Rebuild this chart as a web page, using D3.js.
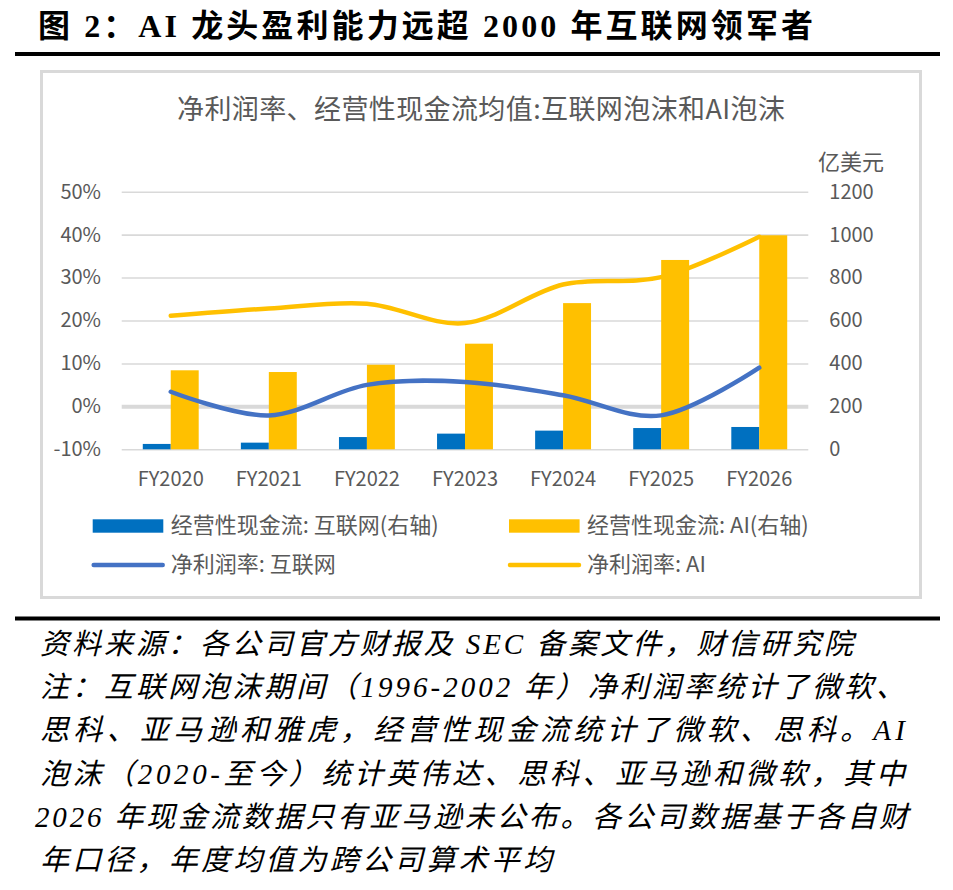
<!DOCTYPE html>
<html>
<head>
<meta charset="utf-8">
<script src="https://cdn.jsdelivr.net/npm/d3@7"></script>
<style>
  body { margin: 0; background: #fff; }
  svg { display: block; }
</style>
</head>
<body>
<svg id="chart" width="953" height="890"></svg>
<script>
// ---- data ----
var years = ['FY2020', 'FY2021', 'FY2022', 'FY2023', 'FY2024', 'FY2025', 'FY2026'];
var cashInternet = [25, 31, 57, 73, 87, 99, 104];      // 亿美元, right axis
var cashAI = [368, 360, 394, 492, 681, 882, 997];     // 亿美元, right axis
var marginInternet = [3.4, -2.1, 5.0, 5.7, 2.6, -2.1, 9.0]; // %
var marginAI = [21.1, 22.8, 23.9, 19.4, 28.4, 30.1, 39.5];  // %
var leftTicks = [-10, 0, 10, 20, 30, 40, 50];
var rightTicks = [0, 200, 400, 600, 800, 1000, 1200];

var figTitle = '图 2：AI 龙头盈利能力远超 2000 年互联网领军者';
var chartTitle = '净利润率、经营性现金流均值:互联网泡沫和AI泡沫';
var unitLabel = '亿美元';
var legendNames = ['经营性现金流: 互联网(右轴)', '经营性现金流: AI(右轴)', '净利润率: 互联网', '净利润率: AI'];
var notes = [
  '资料来源：各公司官方财报及 SEC 备案文件，财信研究院',
  '注：互联网泡沫期间（1996-2002 年）净利润率统计了微软、',
  '思科、亚马逊和雅虎，经营性现金流统计了微软、思科。AI',
  '泡沫（2020-至今）统计英伟达、思科、亚马逊和微软，其中',
  '2026 年现金流数据只有亚马逊未公布。各公司数据基于各自财',
  '年口径，年度均值为跨公司算术平均'
];

(function() {
var blue = '#0070C0', yellow = '#FFC000', lineBlue = '#4472C4',
    grid = '#d9d9d9', gray = '#595959',
    sans = '"Noto Sans CJK SC", "Noto Sans", sans-serif',
    serif = '"Liberation Serif", "Noto Sans CJK SC", serif';

var svg = d3.select('#chart');
svg.append('rect').attr('width', 953).attr('height', 890).attr('fill', '#fff');

// figure title + rules
svg.append('text')
  .attr('x', 38).attr('y', 37)
  .attr('textLength', 775).attr('lengthAdjust', 'spacing')
  .style('font-family', serif).style('font-size', '32px').style('font-weight', 'bold')
  .attr('fill', '#000')
  .text(figTitle);
svg.append('line').attr('x1', 15).attr('x2', 940).attr('y1', 54).attr('y2', 54)
  .attr('stroke', '#000').attr('stroke-width', 4);
svg.append('line').attr('x1', 15).attr('x2', 940).attr('y1', 618.5).attr('y2', 618.5)
  .attr('stroke', '#000').attr('stroke-width', 4);

// chart frame
svg.append('rect')
  .attr('x', 41.5).attr('y', 71.5).attr('width', 879).attr('height', 526)
  .attr('fill', '#fff').attr('stroke', grid).attr('stroke-width', 3);

svg.append('text')
  .attr('x', 481).attr('y', 119).attr('text-anchor', 'middle')
  .attr('textLength', 608).attr('lengthAdjust', 'spacing')
  .style('font-family', sans).style('font-size', '27px').attr('fill', gray)
  .text(chartTitle);

svg.append('text')
  .attr('x', 818).attr('y', 169.5)
  .style('font-family', sans).style('font-size', '22px').attr('fill', gray)
  .text(unitLabel);

// ---- scales ----
var pLeft = 121.7, pRight = 808.3, pTop = 191.7, pBottom = 449.3;

var x0 = d3.scaleBand().domain(years).range([pLeft, pRight])
  .paddingInner(0.43).paddingOuter(0.215);
var x1 = d3.scaleBand().domain(['internet', 'ai']).range([0, x0.bandwidth()]);
var yL = d3.scaleLinear().domain([-10, 50]).range([pBottom, pTop]);
var yR = d3.scaleLinear().domain([0, 1200]).range([pBottom, pTop]);

// gridlines
var g = svg.append('g');
g.append('g').attr('class', 'grid')
  .attr('transform', 'translate(' + pLeft + ',0)')
  .call(d3.axisLeft(yL).tickValues(leftTicks).tickSize(-(pRight - pLeft)).tickFormat(''))
  .call(function(s) {
    s.select('.domain').remove();
    s.selectAll('line')
      .attr('stroke', grid)
      .attr('stroke-width', function(d) { return d === 0 ? 4 : 1.6; });
  });

// axes labels
function styleAxis(s) {
  s.select('.domain').remove();
  s.selectAll('text').style('font-family', sans).style('font-size', '20px').attr('fill', gray);
}
g.append('g')
  .attr('transform', 'translate(' + pLeft + ',0)')
  .call(d3.axisLeft(yL).tickValues(leftTicks).tickSize(0).tickPadding(20.7)
    .tickFormat(function(d) { return d + '%'; }))
  .call(styleAxis);
g.append('g')
  .attr('transform', 'translate(' + pRight + ',0)')
  .call(d3.axisRight(yR).tickValues(rightTicks).tickSize(0).tickPadding(21)
    .tickFormat(d3.format('d')))
  .call(styleAxis);
g.append('g')
  .attr('transform', 'translate(0,' + pBottom + ')')
  .call(d3.axisBottom(x0).tickSize(0).tickPadding(22.7))
  .call(styleAxis);

// ---- bars ----
var rows = years.map(function(y, i) {
  return { year: y, internet: cashInternet[i], ai: cashAI[i] };
});
var groups = g.selectAll('.bar-group').data(rows).enter()
  .append('g').attr('class', 'bar-group')
  .attr('transform', function(d) { return 'translate(' + x0(d.year) + ',0)'; });
groups.selectAll('rect')
  .data(function(d) { return [{ k: 'internet', v: d.internet }, { k: 'ai', v: d.ai }]; })
  .enter().append('rect')
  .attr('x', function(d) { return x1(d.k); })
  .attr('width', x1.bandwidth())
  .attr('y', function(d) { return yR(d.v); })
  .attr('height', function(d) { return yR(0) - yR(d.v); })
  .attr('fill', function(d) { return d.k === 'internet' ? blue : yellow; });

// ---- lines ----
var cx = function(y) { return x0(y) + x0.bandwidth() / 2; };
var line = d3.line()
  .x(function(d) { return cx(d[0]); })
  .y(function(d) { return yL(d[1]); })
  .curve(d3.curveCatmullRom.alpha(0));

[[marginAI, yellow], [marginInternet, lineBlue]].forEach(function(s) {
  g.append('path')
    .datum(years.map(function(y, i) { return [y, s[0][i]]; }))
    .attr('d', line)
    .attr('fill', 'none')
    .attr('stroke', s[1])
    .attr('stroke-width', 4.5)
    .attr('stroke-linecap', 'round');
});

// ---- legend ----
var legend = [
  { name: legendNames[0], type: 'bar', color: blue, x: 92.7, y: 526 },
  { name: legendNames[1], type: 'bar', color: yellow, x: 509, y: 526 },
  { name: legendNames[2], type: 'line', color: lineBlue, x: 92.7, y: 565 },
  { name: legendNames[3], type: 'line', color: yellow, x: 509, y: 565 }
];
var lg = svg.append('g').selectAll('g').data(legend).enter().append('g');
lg.filter(function(d) { return d.type === 'bar'; })
  .append('rect')
  .attr('x', function(d) { return d.x; })
  .attr('y', function(d) { return d.y - 6.7; })
  .attr('width', 70.6).attr('height', 13.4)
  .attr('fill', function(d) { return d.color; });
lg.filter(function(d) { return d.type === 'line'; })
  .append('line')
  .attr('x1', function(d) { return d.x + 1; })
  .attr('x2', function(d) { return d.x + 70; })
  .attr('y1', function(d) { return d.y; })
  .attr('y2', function(d) { return d.y; })
  .attr('stroke', function(d) { return d.color; })
  .attr('stroke-width', 4.5)
  .attr('stroke-linecap', 'round');
lg.append('text')
  .attr('x', function(d) { return d.x + 78; })
  .attr('y', function(d) { return d.y + 7; })
  .style('font-family', sans).style('font-size', '22px').attr('fill', gray)
  .text(function(d) { return d.name; });

// ---- footnote ----
var noteWidths = [813, 865, 865, 865, 873, 512];
svg.append('g').selectAll('text').data(notes).enter()
  .append('text')
  .attr('x', function(d, i) { return i === 4 ? 35 : 40; })
  .attr('y', function(d, i) { return 654 + i * 43.2; })
  .attr('textLength', function(d, i) { return noteWidths[i]; })
  .attr('lengthAdjust', 'spacing')
  .style('font-family', serif).style('font-size', '29px').style('font-style', 'italic')
  .attr('fill', '#000')
  .text(function(d) { return d; });
})();
</script>
</body>
</html>
